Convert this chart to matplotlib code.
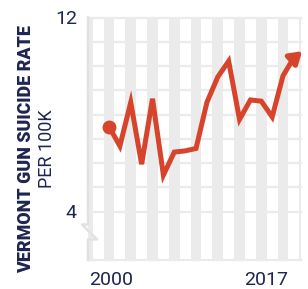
import numpy as np
import matplotlib
matplotlib.use("Agg")
import matplotlib.pyplot as plt
from matplotlib.lines import Line2D

# data
years = list(range(2000, 2018))
rate = [7.5, 6.7, 8.5, 5.95, 8.65, 5.5, 6.45, 6.5, 6.6, 8.5,
        9.55, 10.2, 7.8, 8.6, 8.55, 7.9, 9.6, 10.35]
ytick_vals = [4, 12]
ytick_labels = ["4", "12"]
xtick_pos = [2000.2, 2014.45]
xtick_labels = ["2000", "2017"]
band_years = list(range(1998, 2019, 2))

red = "#d7442c"
navy = "#1d2550"
grey = "#ebebeb"

fig = plt.figure(figsize=(3.08, 2.89), dpi=100)
ax = fig.add_axes([88/308, 1-260/289, 213/308, 242.5/289])
xmin, xmax = 1998.07, 2017.65
ax.set_xlim(xmin, xmax)
ax.set_ylim(2, 12)

# alternating year bands
for b in band_years:
    ax.axvspan(b - 0.5, b + 0.5, color=grey, lw=0, zorder=0)
# horizontal grid
for g in list(range(4, 13)) + [2]:
    ax.axhline(g, color=grey, lw=1.6, zorder=0.5, clip_on=False)

# left border with break notch
yb1, yb2 = 3.46, 2.85
bx = [xmin, xmin, xmin - 0.55, xmin + 0.83, xmin, xmin]
by = [12, yb1, yb1, yb2, yb2, 2]
ax.add_line(Line2D(bx, by, color="#e2e2e2", lw=1.8, clip_on=False, zorder=1))

# main line
ax.plot(years, rate, color=red, lw=3.6, solid_joinstyle="miter", zorder=3)
ax.plot(years[0], rate[0], "o", color=red, ms=9, zorder=4)
# arrow head at the end
dx = years[-1] - years[-2]
dy = rate[-1] - rate[-2]
ax.annotate("", xy=(years[-1] + 0.75*dx, rate[-1] + 0.35*dy),
            xytext=(years[-1] - 0.1*dx, rate[-1] - 0.1*dy),
            arrowprops=dict(arrowstyle="-|>,head_length=0.7,head_width=0.45",
                            color=red, lw=3.6, shrinkA=0, shrinkB=0),
            annotation_clip=False, zorder=4)

for s in ax.spines.values():
    s.set_visible(False)
ax.set_yticks(ytick_vals)
ax.set_yticklabels(ytick_labels)
ax.set_xticks(xtick_pos)
ax.set_xticklabels(xtick_labels)
ax.tick_params(length=0, colors=navy, labelsize=14)
ax.tick_params(axis="y", pad=8)
ax.tick_params(axis="x", pad=8)
for t in ax.get_xticklabels() + ax.get_yticklabels():
    t.set_fontfamily(["Roboto", "DejaVu Sans"])

title = fig.text(26/308, 1-149/289, "VERMONT GUN SUICIDE RATE", rotation=90,
                 ha="center", va="center", color=navy, fontsize=14,
                 fontweight="black", family=["Roboto", "DejaVu Sans"])
fig.text(46.5/308, 1-149/289, "PER 100K", rotation=90,
         ha="center", va="center", color=navy, fontsize=13,
         family=["Roboto", "DejaVu Sans"])

# fit the bold label to the length seen in the reference (~248 px)
r = fig.canvas.get_renderer()
h = title.get_window_extent(r).height
title.set_fontsize(14 * 248 / h)

fig.savefig("out.png", dpi=100)
